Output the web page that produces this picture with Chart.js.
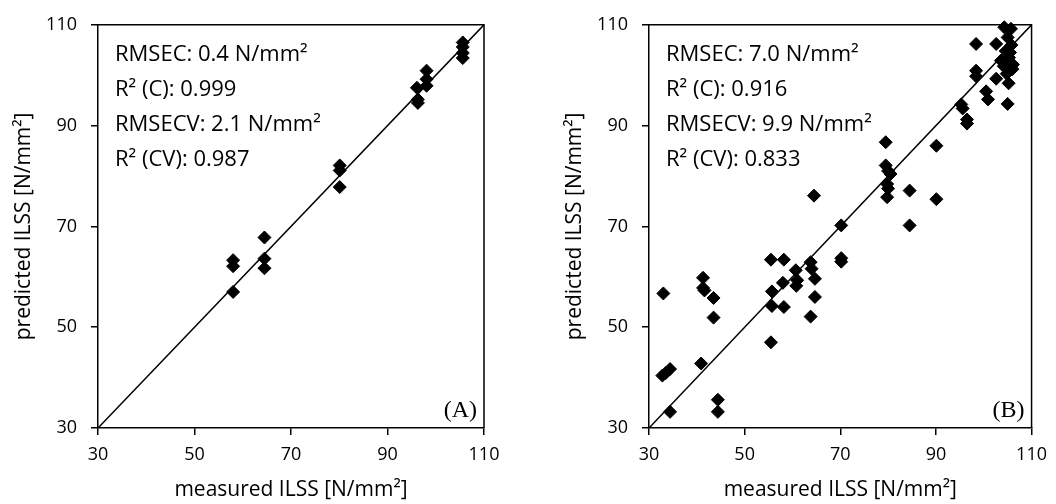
<!DOCTYPE html>
<html>
<head>
<meta charset="utf-8">
<script src="https://cdn.jsdelivr.net/npm/chart.js@4.4.1/dist/chart.umd.min.js"></script>
<style>
  html, body { margin: 0; padding: 0; background: #fff; }
  #wrap { position: relative; width: 1056px; height: 504px; }
  canvas { position: absolute; top: 0; }
  #chartA { left: 0; }
  #chartB { left: 551px; }
</style>
</head>
<body>
<div id="wrap">
  <canvas id="chartA" width="528" height="504"></canvas>
  <canvas id="chartB" width="505" height="504"></canvas>
</div>
<script>
// Panel A: calibration model, measured vs predicted ILSS [N/mm²]
const measuredA = [58.0, 58.0, 58.0, 64.5, 64.5, 64.5, 80.1, 80.1, 80.1,
  96.1, 96.3, 96.3, 98.1, 98.1, 98.1, 105.6, 105.6, 105.6, 105.6];
const predictedA = [63.3, 62.1, 57.0, 67.8, 63.6, 61.7, 82.1, 81.1, 77.8,
  97.5, 95.2, 94.5, 100.9, 99.2, 97.9, 106.5, 105.6, 104.4, 103.4];

// Panel B
const measuredB = [33.0, 32.8, 33.5, 34.4, 34.4, 41.3, 41.3, 41.6, 43.5, 43.5,
  40.9, 44.4, 44.4, 55.5, 55.7, 55.7, 55.5, 58.2, 58.0, 58.2,
  60.7, 61.0, 60.8, 63.8, 64.0, 64.7, 64.7, 63.8, 64.5, 70.2,
  70.2, 70.2, 79.5, 79.5, 80.0, 80.5, 79.8, 80.0, 79.8, 84.5,
  84.5, 90.1, 90.1, 95.3, 95.6, 96.5, 96.5, 98.4, 98.4, 98.4,
  100.5, 100.9, 102.6, 102.6, 103.6, 104.2, 104.3, 104.6, 105.0, 105.7,
  105.8, 105.7, 106.0, 105.2, 105.0, 105.3, 104.8, 106.1, 105.5];
const predictedB = [56.7, 40.4, 40.9, 41.7, 33.2, 59.8, 57.8, 57.3, 55.8, 51.9,
  42.8, 35.6, 33.2, 63.4, 57.1, 54.2, 47.0, 63.4, 58.8, 54.0,
  61.3, 59.3, 58.2, 62.9, 61.6, 59.6, 56.0, 52.1, 76.1, 70.2,
  63.7, 63.0, 86.7, 82.1, 81.0, 80.4, 78.4, 77.5, 75.8, 77.1,
  70.2, 86.0, 75.4, 94.2, 93.4, 91.2, 90.4, 106.2, 100.9, 99.8,
  96.8, 95.2, 106.2, 99.3, 102.9, 101.8, 109.5, 104.8, 107.5, 109.2,
  106.0, 102.2, 101.2, 98.4, 94.3, 103.5, 100.3, 102.1, 104.5];

const statsA = ['RMSEC: 0.4 N/mm²', 'R² (C): 0.999', 'RMSECV: 2.1 N/mm²', 'R² (CV): 0.987'];
const statsB = ['RMSEC: 7.0 N/mm²', 'R² (C): 0.916', 'RMSECV: 9.9 N/mm²', 'R² (CV): 0.833'];

const axisRange = [30, 110];
const tickStep = 20;

Chart.defaults.font.family = "'Open Sans', sans-serif";
Chart.defaults.color = '#000';

// closes the box and writes the statistics and panel letter
const panelDecor = {
  id: 'panelDecor',
  afterDraw(chart, args, opts) {
    const { ctx, chartArea: a } = chart;
    ctx.save();
    ctx.strokeStyle = '#000';
    ctx.lineWidth = 1.5;
    ctx.beginPath();
    ctx.moveTo(a.left, a.top);
    ctx.lineTo(a.right, a.top);
    ctx.lineTo(a.right, a.bottom);
    ctx.stroke();

    ctx.fillStyle = '#000';
    ctx.font = "22px 'Open Sans', sans-serif";
    ctx.textAlign = 'left';
    ctx.textBaseline = 'alphabetic';
    opts.lines.forEach((t, i) => {
      ctx.fillText(t, a.left + 17, a.top + 36 + i * 35);
    });

    ctx.font = "24px 'Liberation Serif', serif";
    ctx.textAlign = 'right';
    ctx.fillText(opts.tag, a.right - 7, a.bottom - 11);
    ctx.restore();
  }
};

function axis(titleText, isX) {
  return {
    type: 'linear',
    min: axisRange[0],
    max: axisRange[1],
    ticks: { stepSize: tickStep, font: { size: 18 }, padding: isX ? 9 : 14, color: '#000' },
    grid: { drawOnChartArea: false, tickLength: 7, color: '#000', lineWidth: 1.5 },
    border: { color: '#000', width: 1.5 },
    title: {
      display: true,
      text: titleText,
      color: '#000',
      font: { size: 21 },
      padding: isX ? { top: 0, bottom: 1 } : { top: 11, bottom: 0 }
    },
    afterFit(scale) {
      if (isX) scale.height = 76;
      else scale.width = 98;
    }
  };
}

function makeChart(id, xs, ys, lines, tag, rightPad) {
  const points = xs.map((x, i) => ({ x: x, y: ys[i] }));
  const unity = axisRange.map(v => ({ x: v, y: v }));
  return new Chart(document.getElementById(id), {
    type: 'scatter',
    data: {
      datasets: [{
        data: points,
        pointStyle: 'rectRot',
        pointRadius: 6.5,
        backgroundColor: '#000',
        borderColor: '#000',
        borderWidth: 1,
        clip: 10
      }, {
        data: unity,
        showLine: true,
        borderColor: '#000',
        borderWidth: 1.5,
        pointRadius: 0
      }]
    },
    options: {
      responsive: false,
      animation: false,
      layout: { padding: { top: 22, right: rightPad, left: 0, bottom: 0 } },
      plugins: {
        legend: { display: false },
        tooltip: { enabled: false },
        panelDecor: { lines: lines, tag: tag }
      },
      scales: {
        x: axis('measured ILSS [N/mm²]', true),
        y: axis('predicted ILSS [N/mm²]', false)
      }
    },
    plugins: [panelDecor]
  });
}

makeChart('chartA', measuredA, predictedA, statsA, '(A)', 44);
makeChart('chartB', measuredB, predictedB, statsB, '(B)', 20);
</script>
</body>
</html>
